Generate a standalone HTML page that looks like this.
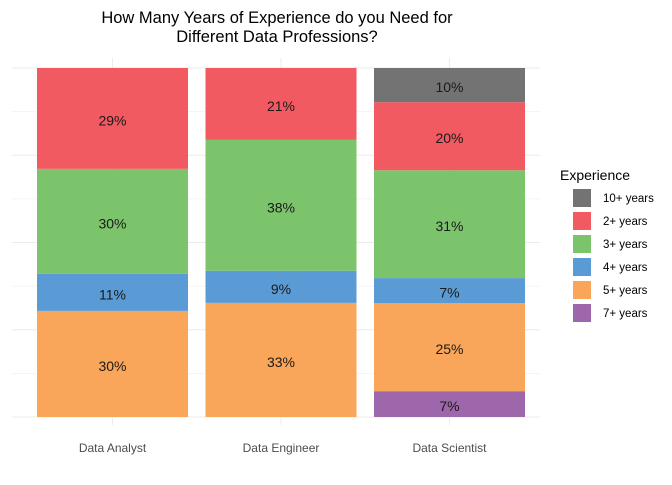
<!DOCTYPE html>
<html><head><meta charset="utf-8"><style>
body{margin:0;background:#fff;font-family:"Liberation Sans",sans-serif}
</style></head><body>
<svg width="672" height="480" xmlns="http://www.w3.org/2000/svg">
<text x="277" y="23" text-anchor="middle" font-size="16.5" fill="#000">How Many Years of Experience do you Need for</text>
<text x="277" y="42" text-anchor="middle" font-size="16.5" fill="#000">Different Data Professions?</text>
<g id="grid"></g><g id="bars"></g><g id="xaxis"></g><g id="legend"></g>
</svg>
<script>
const categories=["Data Analyst","Data Engineer","Data Scientist"];
const groups=["7+ years","5+ years","4+ years","3+ years","2+ years","10+ years"];
const v7=[0,0,0.074];
const v5=[0.304,0.327,0.252];
const v4=[0.106,0.092,0.072];
const v3=[0.301,0.375,0.309];
const v2=[0.289,0.206,0.195];
const v10=[0,0,0.098];
const series=[v7,v5,v4,v3,v2,v10];
const colors={"10+ years":"#737373","2+ years":"#F25A61","3+ years":"#7BC46B","4+ years":"#5B9BD5","5+ years":"#F9A65A","7+ years":"#9E66AB"};
const legendOrder=["10+ years","2+ years","3+ years","4+ years","5+ years","7+ years"];
const NS="http://www.w3.org/2000/svg";
const y0=417,y1=68;
function yScale(f){return y0-f*(y0-y1);}
function xCenter(i){return 112.5+i*168.5;}
const bw=151;
function mk(t,a,p){const e=document.createElementNS(NS,t);for(const k in a)e.setAttribute(k,a[k]);p.appendChild(e);return e;}
const grid=document.getElementById('grid');
for(let k=0;k<=8;k++){const y=yScale(k/8);const g=mk('line',{x1:12,x2:540,y1:y,y2:y,stroke:'#ebebeb','stroke-width':k%2?0.6:1},grid);

}
categories.forEach((c,i)=>{const g=mk('line',{x1:xCenter(i),x2:xCenter(i),y1:58,y2:425,stroke:'#ebebeb'},grid);

});
const bars=document.getElementById('bars');
categories.forEach((c,i)=>{let cum=0;
series.forEach((s,j)=>{const v=s[i];if(v<=0)return;
const yt=yScale(cum+v),yb=yScale(cum);
const r=mk('rect',{x:xCenter(i)-bw/2,y:yt,width:bw,height:yb-yt,fill:colors[groups[j]]},bars);


const t=mk('text',{x:xCenter(i),y:(yt+yb)/2+7,'text-anchor':'middle','font-size':14,fill:'#1a1a1a'},bars);
t.textContent=Math.round(v*100)+'%';


cum+=v;});
const t=mk('text',{x:xCenter(i),y:452,'text-anchor':'middle','font-size':12,fill:'#4d4d4d'},document.getElementById('xaxis'));
t.textContent=c;

});
const lg=document.getElementById('legend');
const lt=mk('text',{x:560,y:180,'font-size':14,fill:'#000'},lg);lt.textContent='Experience';


legendOrder.forEach((g,k)=>{const y=189+k*23;
const r=mk('rect',{x:573,y:y,width:18,height:18,fill:colors[g]},lg);


const t=mk('text',{x:603,y:y+13,'font-size':11.5,fill:'#000'},lg);t.textContent=g;

});
</script>
</body></html>
